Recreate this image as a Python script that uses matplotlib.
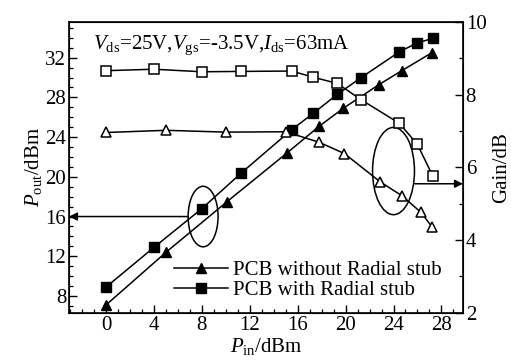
import matplotlib
matplotlib.use("Agg")
import matplotlib.pyplot as plt
from matplotlib.patches import Ellipse
from matplotlib.ticker import MultipleLocator

plt.rcParams['font.family'] = ['Liberation Serif', 'DejaVu Serif']
plt.rcParams['mathtext.fontset'] = 'custom'
plt.rcParams['mathtext.rm'] = 'Liberation Serif'
plt.rcParams['mathtext.it'] = 'Liberation Serif:italic'

# Output power, PCB with radial stub (filled squares)
pin_stub = [0, 4, 8, 11.3, 15.5, 17.3, 19.3, 21.3, 24.5, 26.0, 27.3]
pout_stub = [8.9, 12.9, 16.8, 20.4, 24.75, 26.4, 28.3, 30.0, 32.6, 33.5, 33.95]
# Output power, PCB without radial stub (filled triangles)
pin_nostub = [0, 5, 10.1, 15.1, 17.8, 19.8, 22.8, 24.7, 27.2]
pout_nostub = [7.1, 12.4, 17.5, 22.4, 25.1, 26.9, 29.3, 30.7, 32.5]
# Gain, with stub (open squares)
gain_stub = [8.66, 8.70, 8.63, 8.64, 8.65, 8.48, 8.31, 7.86, 7.21, 6.63, 5.75]
# Gain, without stub (open triangles)
pin_gain_nostub = [0, 5, 10, 15, 17.8, 19.9, 22.9, 24.75, 26.3, 27.2]
gain_nostub = [6.96, 7.02, 6.97, 6.98, 6.69, 6.38, 5.6, 5.21, 4.76, 4.37]

xticks = [0, 4, 8, 12, 16, 20, 24, 28]
yticks_left = [8, 12, 16, 20, 24, 28, 32]
yticks_right = [2, 4, 6, 8, 10]

FS = 15

fig = plt.figure(figsize=(5.11, 3.60), dpi=100)
ax = fig.add_axes([0.135, 0.131, 0.771, 0.808])
ax2 = ax.twinx()

lw = 1.1
l1, = ax.plot(pin_nostub, pout_nostub, '-', color='black', lw=lw, marker='^',
              ms=7, mfc='black', mec='black', label='PCB without Radial stub')
l2, = ax.plot(pin_stub, pout_stub, '-', color='black', lw=lw, marker='s',
              ms=6.5, mfc='black', mec='black', label='PCB with Radial stub')
ax2.plot(pin_stub, gain_stub, '-', color='black', lw=lw, marker='s',
         ms=6.5, mfc='white', mec='black', mew=1.1)
ax2.plot(pin_gain_nostub, gain_nostub, '-', color='black', lw=lw, marker='^',
         ms=7, mfc='white', mec='black', mew=1.1)

ax.set_xlim(-3.1, 29.8)
ax.set_ylim(6.3, 35.6)
ax2.set_ylim(2, 10)

ax.set_xticks(xticks)
ax.set_yticks(yticks_left)
ax2.set_yticks(yticks_right)
ax.xaxis.set_minor_locator(MultipleLocator(1))
ax.yaxis.set_minor_locator(MultipleLocator(1))
ax2.yaxis.set_minor_locator(MultipleLocator(1))

for a in (ax, ax2):
    a.tick_params(which='major', direction='in', length=6, width=1.0,
                  labelsize=FS, pad=2)
    a.tick_params(which='minor', direction='in', length=3, width=0.9)
ax.tick_params(axis='y', which='both', right=False)
ax.tick_params(axis='x', which='both', top=False)
for s in ax.spines.values():
    s.set_linewidth(1.2)

ax.set_xlabel(r'$P_{\rm in}$/dBm', fontsize=FS, labelpad=1)
ax.set_ylabel(r'$P_{\rm out}$/dBm', fontsize=FS, labelpad=1)
ax2.set_ylabel('Gain/dB', fontsize=FS, labelpad=4)

ax.text(0.06, 0.96, r'$V_{\rm ds}$=25V,$V_{\rm gs}$=-3.5V,$I_{\rm ds}$=63mA',
        transform=ax.transAxes, fontsize=FS, va='top', ha='left')

# Ellipses and arrows
ax.add_patch(Ellipse((8.1, 16.0), 2.5, 6.1, fill=False, ec='black', lw=1.1))
ax.annotate('', xy=(0, 16.0), xycoords=('axes fraction', 'data'),
            xytext=(6.85, 16.0), textcoords='data',
            arrowprops=dict(arrowstyle='-|>', color='black', lw=1.1,
                            mutation_scale=12, shrinkA=0, shrinkB=0))
ax2.add_patch(Ellipse((24.0, 5.9), 3.5, 2.4, fill=False, ec='black', lw=1.1))
ax2.annotate('', xy=(1, 5.55), xycoords=('axes fraction', 'data'),
             xytext=(25.75, 5.55), textcoords='data',
             arrowprops=dict(arrowstyle='-|>', color='black', lw=1.1,
                             mutation_scale=12, shrinkA=0, shrinkB=0))

leg = ax.legend(handles=[l1, l2], loc='lower left', bbox_to_anchor=(0.255, 0.03),
                frameon=False, fontsize=FS, handlelength=2.6, handletextpad=0.25,
                labelspacing=0.0, borderpad=0.1, borderaxespad=0.1)

fig.savefig('out.png', dpi=100)
